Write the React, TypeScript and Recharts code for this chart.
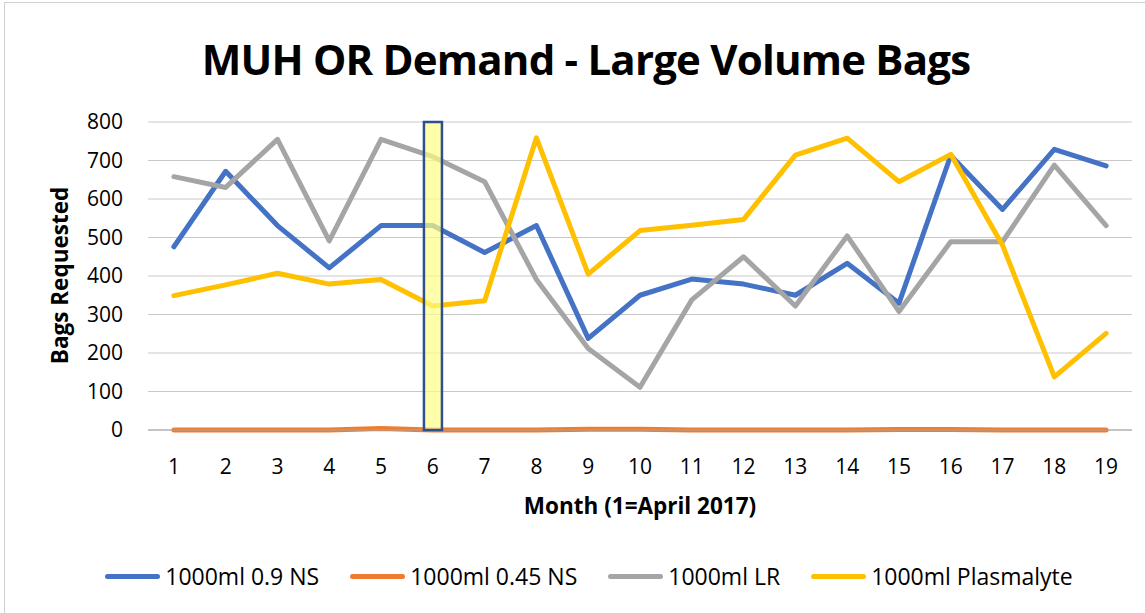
import { ComposedChart, Line, Bar, XAxis, YAxis, CartesianGrid } from 'recharts';

const months = ['1', '2', '3', '4', '5', '6', '7', '8', '9', '10', '11', '12', '13', '14', '15', '16', '17', '18', '19'];
const ns09 = [476, 672, 531, 421, 531, 531, 461, 531, 238, 350, 392, 379, 350, 433, 329, 713, 573, 729, 686];
const ns045 = [0, 0, 0, 0, 4, 0, 0, 0, 2, 2, 0, 0, 0, 0, 1, 1, 0, 0, 0];
const lr = [658, 630, 755, 491, 755, 710, 645, 391, 212, 111, 338, 450, 322, 504, 308, 489, 489, 688, 531];
const plasmalyte = [349, 377, 407, 379, 391, 322, 336, 759, 405, 518, 532, 547, 714, 758, 645, 716, 480, 138, 251];
const highlight = [null, null, null, null, null, 800, null, null, null, null, null, null, null, null, null, null, null, null, null];
const yTicks = [0, 100, 200, 300, 400, 500, 600, 700, 800];

const series = [
  { key: 'ns09', name: '1000ml 0.9 NS', color: '#4472C4' },
  { key: 'ns045', name: '1000ml 0.45 NS', color: '#ED7D31' },
  { key: 'lr', name: '1000ml LR', color: '#A5A5A5' },
  { key: 'plasmalyte', name: '1000ml Plasmalyte', color: '#FFC000' },
];

const chartData = months.map((m, i) => ({
  month: m,
  ns09: ns09[i],
  ns045: ns045[i],
  lr: lr[i],
  plasmalyte: plasmalyte[i],
  highlight: highlight[i],
}));

const FONT = '"Open Sans", sans-serif';

export default function App() {
  return (
    <div style={{ position: 'absolute', left: 0, top: 0, width: 1145, height: 613, background: '#fff', fontFamily: FONT, overflow: 'hidden' }}>
      <div style={{ position: 'absolute', left: 4, top: 2, width: 1160, height: 640, border: '1px solid #d0d0d0' }} />
      <div style={{ position: 'absolute', left: 0, width: 1172, top: 30, textAlign: 'center', fontSize: 42, fontWeight: 700, letterSpacing: -0.8, color: '#000' }}>
        MUH OR Demand - Large Volume Bags
      </div>
      <ComposedChart
        width={1145}
        height={613}
        data={chartData}
        margin={{ top: 122, right: 13, left: 68, bottom: 123 }}
        barCategoryGap={0}
      >
        <CartesianGrid vertical={false} stroke="#c8c8c8" />
        <XAxis
          dataKey="month"
          height={60}
          tickLine={false}
          axisLine={{ stroke: '#a6a6a6' }}
          tickMargin={23}
          tick={{ fontSize: 21, fill: '#000', fontFamily: FONT }}
          interval={0}
        />
        <YAxis
          width={80}
          domain={[0, 800]}
          ticks={yTicks}
          axisLine={false}
          tickLine={false}
          tickMargin={19}
          tick={{ fontSize: 21, fill: '#000', fontFamily: FONT }}
        />
        {series.map(s => (
          <Line
            key={s.key}
            type="linear"
            dataKey={s.key}
            name={s.name}
            stroke={s.color}
            strokeWidth={5}
            strokeLinecap="round"
            strokeLinejoin="round"
            dot={false}
            activeDot={false}
            isAnimationActive={false}
          />
        ))}
        {/* highlight box for month 6, drawn over the lines */}
        <Bar
          dataKey="highlight"
          barSize={18}
          fill="#FFFF88"
          fillOpacity={0.7}
          stroke="#2F4F8F"
          strokeWidth={2.5}
          legendType="none"
          zIndex={900}
          isAnimationActive={false}
        />
      </ComposedChart>
      <div style={{ position: 'absolute', left: 30, top: 50, width: 60, height: 450, display: 'flex', alignItems: 'center', justifyContent: 'center' }}>
        <div style={{ transform: 'rotate(-90deg)', whiteSpace: 'nowrap', fontSize: 22.5, fontWeight: 700 }}>Bags Requested</div>
      </div>
      <div style={{ position: 'absolute', left: 440, width: 400, top: 490, textAlign: 'center', fontSize: 22.5, fontWeight: 700 }}>
        Month (1=April 2017)
      </div>
      <div style={{ position: 'absolute', left: 0, width: 1178, top: 560, display: 'flex', justifyContent: 'center', gap: 31 }}>
        {series.map(s => (
          <div key={s.key} style={{ display: 'flex', alignItems: 'center' }}>
            <div style={{ width: 55, height: 5, borderRadius: 3, background: s.color, marginRight: 5 }} />
            <span style={{ fontSize: 23, color: '#000' }}>{s.name}</span>
          </div>
        ))}
      </div>
    </div>
  );
}
